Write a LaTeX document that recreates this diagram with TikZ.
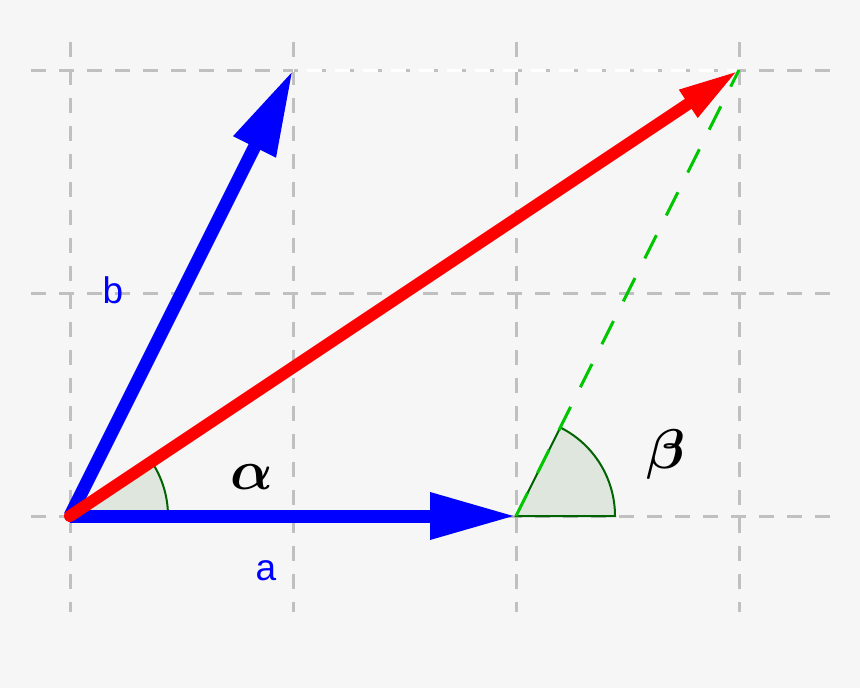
\documentclass[tikz,border=0pt]{standalone}
\usepackage{fontspec}
\setsansfont{Liberation Sans}
\usetikzlibrary{arrows.meta}
\definecolor{bg}{RGB}{246,246,246}
\definecolor{gridgray}{RGB}{192,192,192}
\definecolor{sectfill}{RGB}{222,230,222}
\definecolor{sectline}{RGB}{0,100,0}
\definecolor{dashgreen}{RGB}{0,200,0}
\tikzset{
  gridline/.style={gridgray, line width=3pt, dash pattern=on 15pt off 13pt},
  vecblue/.style={blue, line width=13pt, -{Triangle[length=86pt,width=44pt]}},
  vecred/.style={red, line width=12pt, line cap=round, -{Triangle[length=61pt,width=30pt]}},
  sector/.style={fill=sectfill, draw=sectline, line width=2pt},
  greendash/.style={dashgreen, line width=3pt, dash pattern=on 26pt off 22pt},
  vlabel/.style={blue, font=\sffamily\fontsize{37}{37}\selectfont, anchor=base, inner sep=0pt},
  anglelabel/.style={anchor=base, inner sep=0pt}
}
\begin{document}
\begin{tikzpicture}[x=1pt,y=-1pt]
\fill[bg] (0,0) rectangle (860,688);
\useasboundingbox (0,0) rectangle (860,688);
% grid
\foreach \x in {70,293,516,739} \draw[gridline] (\x,42) -- (\x,612);
\foreach \y in {70,293,516} \draw[gridline] (31,\y) -- (830,\y);
\coordinate (O) at (70,516);
\coordinate (A) at (516,516);
\coordinate (B) at (293,70);
\coordinate (C) at (739,70);
% white dashed top edge
\draw[white, line width=3pt, dash pattern=on 15pt off 13pt, dash phase=-14pt] (B) -- (C);
% angle sectors
\fill[sectfill] (O) -- ++(0:98) arc[start angle=0, end angle=-33.69, radius=98] -- cycle;
\draw[sectline, line width=2pt] (O) ++(0:98) arc[start angle=0, end angle=-33.69, radius=98];
\draw[sector] (A) -- ++(0:99) arc[start angle=0, end angle=-63.43, radius=99] -- cycle;
\draw[greendash] (A) -- (C);
% vectors
\draw[vecblue] (O) -- (A);
\draw[vecblue] (O) -- (B);
\draw[vecred] (O) -- (C);
% labels
\node[vlabel] (la) at (266,580) {a};
\node[vlabel] (lb) at (113,303) {b};
\node[anglelabel] (alpha) at (252,489) {\scalebox{5.6}{\boldmath$\alpha$}};
\node[anglelabel] (beta) at (666,468) {\scalebox{5.6}{\boldmath$\beta$}};
\end{tikzpicture}
\end{document}
